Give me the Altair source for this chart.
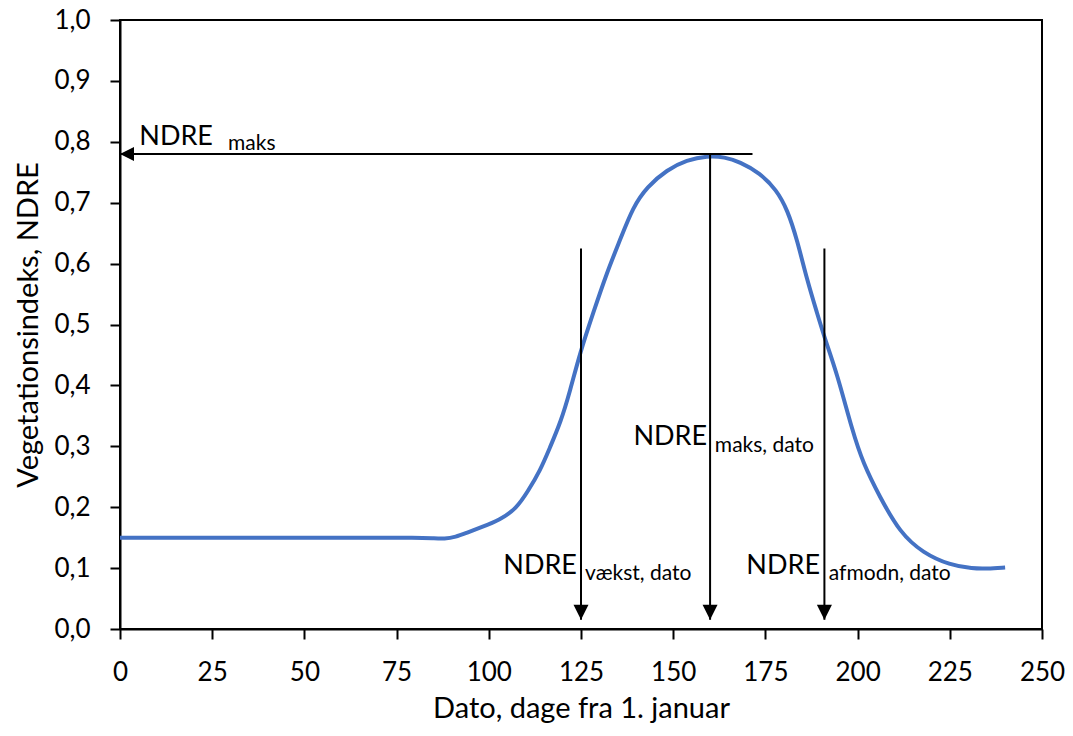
import altair as alt
import pandas as pd

# Curve: NDRE vs day of year
days = [0, 10, 20, 30, 40, 50, 60, 70, 80, 85, 88, 91, 94, 98, 103, 107.5, 110.5,
        114, 116.5, 119.5, 122, 124.7, 128.3, 132, 135.6, 139.1, 142.9, 148.3,
        153.7, 159.2, 164, 168, 173.5, 178, 181, 183.6, 186.3, 189, 191.2, 194.4,
        198.6, 201.5, 206, 211.5, 217.7, 225, 231.3, 235, 240]
ndre = [0.15, 0.15, 0.15, 0.15, 0.15, 0.15, 0.15, 0.15, 0.15, 0.149, 0.148, 0.151,
        0.158, 0.167, 0.179, 0.198, 0.225, 0.261, 0.297, 0.34, 0.39, 0.453, 0.519,
        0.585, 0.639, 0.693, 0.726, 0.754, 0.770, 0.777, 0.775, 0.767, 0.749, 0.721,
        0.688, 0.639, 0.573, 0.519, 0.475, 0.42, 0.325, 0.272, 0.217, 0.158, 0.125,
        0.105, 0.099, 0.099, 0.101]

x_ticks = [0, 25, 50, 75, 100, 125, 150, 175, 200, 225, 250]
y_ticks = [0.0, 0.1, 0.2, 0.3, 0.4, 0.5, 0.6, 0.7, 0.8, 0.9, 1.0]

# Vertical arrows (date markers)
arrow_x = [125, 160, 191]
arrow_top = [0.625, 0.78, 0.625]
arrow_tip = [0.015, 0.015, 0.015]

# Horizontal arrow (max NDRE)
hmax_y = [0.78]
hmax_from = [171.5]
hmax_to = [0]

# Annotation labels
main_labels = ["NDRE", "NDRE", "NDRE", "NDRE"]
main_x = [25.2, 159.2, 123.9, 189.8]
main_y = [0.795, 0.302, 0.090, 0.090]
sub_labels = ["maks", "maks, dato", "vækst, dato", "afmodn, dato"]
sub_x = [29.3, 161.3, 126.1, 192.2]
sub_y = [0.786, 0.291, 0.080, 0.080]

FONT = "Lato"

curve = pd.DataFrame({"x": days, "y": ndre})
varr = pd.DataFrame({"x": arrow_x, "y": arrow_top, "y2": arrow_tip})
harr = pd.DataFrame({"x": hmax_from, "x2": hmax_to, "y": hmax_y})
mlab = pd.DataFrame({"x": main_x, "y": main_y, "t": main_labels})
slab = pd.DataFrame({"x": sub_x, "y": sub_y, "t": sub_labels})

xscale = alt.Scale(domain=[0, 250], nice=False, zero=False)
yscale = alt.Scale(domain=[0, 1], nice=False)

xaxis = alt.Axis(values=x_ticks, title="Dato, dage fra 1. januar", grid=False,
                 tickSize=10, tickWidth=2, tickColor="black",
                 domainColor="black", domainWidth=2,
                 labelFont=FONT, labelFontSize=26, labelColor="black",
                 labelPadding=20, labelFlush=False,
                 titleFont=FONT, titleFontSize=29, titleFontWeight="normal",
                 titleColor="black", titlePadding=9)
yaxis = alt.Axis(values=y_ticks, title="Vegetationsindeks, NDRE", grid=False,
                 tickSize=10, tickWidth=2, tickColor="black",
                 domainColor="black", domainWidth=2,
                 labelFont=FONT, labelFontSize=26, labelColor="black",
                 labelPadding=20, labelFlush=False,
                 labelExpr="replace(format(datum.value, '.1f'), '.', ',')",
                 titleFont=FONT, titleFontSize=29, titleFontWeight="normal",
                 titleColor="black", titlePadding=10)


def X(field):
    return alt.X(field, type="quantitative", scale=xscale, axis=xaxis)


def Y(field):
    return alt.Y(field, type="quantitative", scale=yscale, axis=yaxis)


line = alt.Chart(curve).mark_line(color="#4472C4", strokeWidth=4,
                                  interpolate="basis").encode(
    x=X("x"), y=Y("y"),
)
vlines = alt.Chart(varr).mark_rule(color="black", strokeWidth=2).encode(
    x=X("x"), y=Y("y"), y2="y2:Q",
)
vheads = alt.Chart(varr).mark_point(shape="M-1,-2L1,-2L0,0Z", size=225,
                                    filled=True, color="black", opacity=1).encode(
    x=X("x"), y=Y("y2"),
)
hline = alt.Chart(harr).mark_rule(color="black", strokeWidth=2).encode(
    x=X("x"), x2="x2:Q", y=Y("y"),
)
hhead = alt.Chart(harr).mark_point(shape="M0,0L2,-1L2,1Z", size=196,
                                   filled=True, color="black", opacity=1).encode(
    x=X("x2"), y=Y("y"),
)
mtext = alt.Chart(mlab).mark_text(font=FONT, fontSize=27, align="right",
                                  baseline="alphabetic", color="black").encode(
    x=X("x"), y=Y("y"), text="t:N",
)
stext = alt.Chart(slab).mark_text(font=FONT, fontSize=21, align="left",
                                  baseline="alphabetic", color="black").encode(
    x=X("x"), y=Y("y"), text="t:N",
)

chart = alt.layer(line, vlines, vheads, hline, hhead, mtext, stext).properties(
    width=922, height=609,
    autosize=alt.AutoSizeParams(type="none"),
    padding={"left": 112, "top": 12, "right": 23, "bottom": 99},
    background="white",
).configure_view(stroke="black", strokeWidth=2)

chart.save("out.html", embed_options={"renderer": "svg", "actions": False})
